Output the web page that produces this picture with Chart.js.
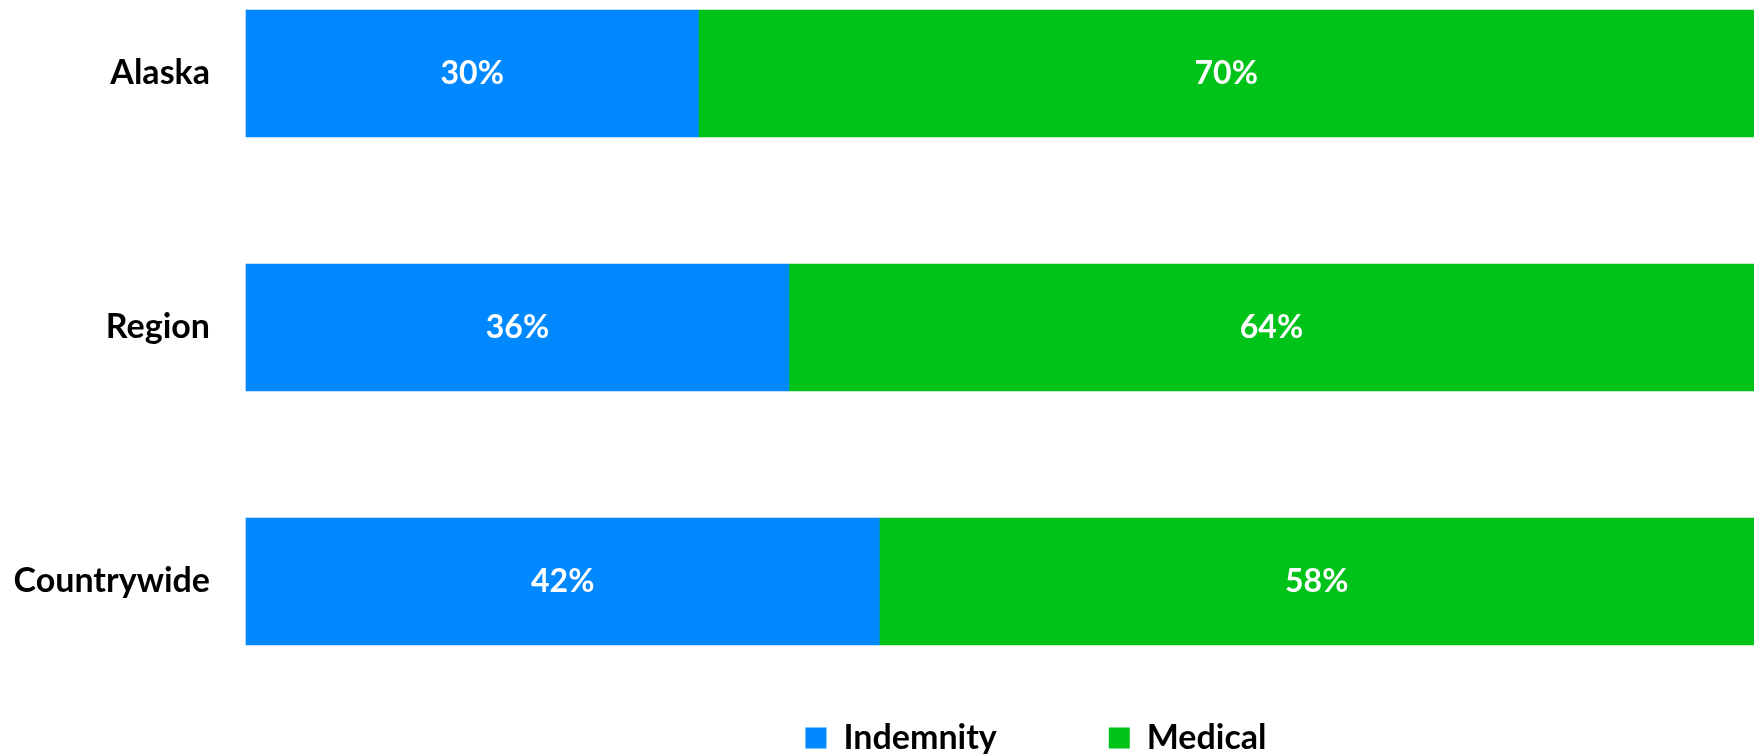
<!DOCTYPE html>
<html>
<head>
<meta charset="utf-8">
<script src="https://cdn.jsdelivr.net/npm/chart.js@4.4.1/dist/chart.umd.min.js"></script>
<style>
  html, body { margin: 0; padding: 0; background: #ffffff; }
  #wrap { width: 1754px; height: 754px; position: relative; }
</style>
</head>
<body>
<div id="wrap"><canvas id="c" width="1754" height="754"></canvas></div>
<script>
const categories = ['Alaska', 'Region', 'Countrywide'];
const seriesNames = ['Indemnity', 'Medical'];
const indemnity = [30, 36, 42];
const medical = [70, 64, 58];
const colors = ['#0088FF', '#00C31A'];

const FONT = "Lato, 'Open Sans', sans-serif";

const toPoints = (vals) => vals.map((v, i) => ({ x: v, y: i }));

const barLabels = {
  id: 'barLabels',
  afterDatasetsDraw(chart) {
    const ctx = chart.ctx;
    ctx.save();
    ctx.fillStyle = '#ffffff';
    ctx.font = "bold 32px " + FONT;
    ctx.textAlign = 'center';
    ctx.textBaseline = 'middle';
    chart.data.datasets.forEach((ds, di) => {
      const meta = chart.getDatasetMeta(di);
      meta.data.forEach((el, i) => {
        const cx = (el.x + el.base) / 2;
        ctx.fillText(ds.data[i].x + '%', cx, el.y);
      });
    });
    ctx.restore();
  }
};

const legendPlace = {
  id: 'legendPlace',
  afterLayout(chart) {
    const lg = chart.legend;
    if (!lg) return;
    const h = lg.height;
    lg.left = 318; lg.right = 1754; lg.width = lg.right - lg.left;
    lg.top = 609; lg.bottom = lg.top + h;
  }
};

new Chart(document.getElementById('c'), {
  type: 'bar',
  data: {
    datasets: [
      { label: seriesNames[0], data: toPoints(indemnity), backgroundColor: colors[0], borderWidth: 0, barThickness: 127, clip: false },
      { label: seriesNames[1], data: toPoints(medical), backgroundColor: colors[1], borderWidth: 0, barThickness: 127, clip: false }
    ]
  },
  options: {
    indexAxis: 'y',
    responsive: false,
    animation: false,
    layout: { padding: 0, autoPadding: false },
    scales: {
      x: { stacked: true, min: 0, max: 100, display: false },
      y: {
        type: 'linear',
        stacked: true,
        reverse: true,
        offset: false,
        min: -0.2894,
        max: 2.065,
        grid: { display: false, drawTicks: false },
        border: { display: false },
        afterBuildTicks: (axis) => { axis.ticks = categories.map((c, i) => ({ value: i })); },
        afterFit: (axis) => { axis.width = 246; axis.paddingTop = 0; axis.paddingBottom = 0; },
        ticks: {
          padding: 36,
          color: '#000000',
          font: { family: FONT, size: 34, weight: 'bold' },
          callback: (v) => categories[v] ?? ''
        }
      }
    },
    plugins: {
      legend: {
        position: 'bottom',
        labels: {
          boxWidth: 21,
          boxHeight: 21,
          padding: 112,
          color: '#000000',
          font: { family: FONT, size: 34, weight: 'bold' }
        }
      },
      tooltip: { enabled: false }
    }
  },
  plugins: [barLabels, legendPlace]
});
</script>
</body>
</html>
